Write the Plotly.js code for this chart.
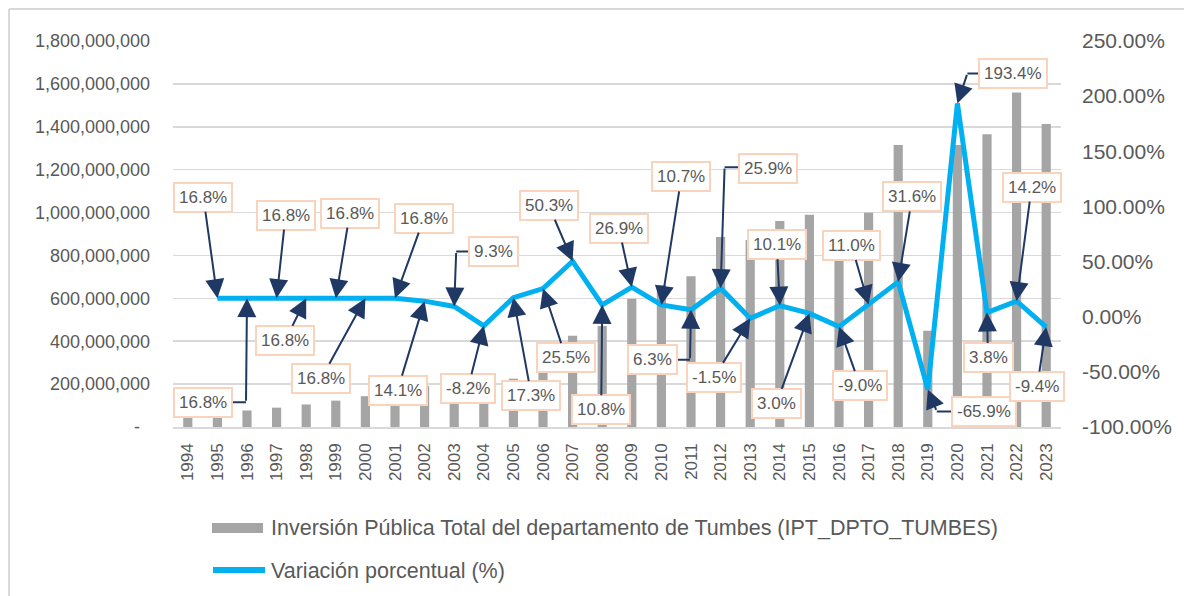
<!DOCTYPE html>
<html><head><meta charset="utf-8">
<script src="https://cdn.plot.ly/plotly-3.0.1.min.js"></script>
<style>html,body{margin:0;padding:0;background:#fff}#chart{width:1184px;height:596px}</style>
</head><body><div id="chart"></div>
<script>
// ---------- DATA ----------
const years = [1994,1995,1996,1997,1998,1999,2000,2001,2002,2003,2004,2005,2006,2007,2008,2009,2010,2011,2012,2013,2014,2015,2016,2017,2018,2019,2020,2021,2022,2023];
const yearLabels = ["1994","1995","1996","1997","1998","1999","2000","2001","2002","2003","2004","2005","2006","2007","2008","2009","2010","2011","2012","2013","2014","2015","2016","2017","2018","2019","2020","2021","2022","2023"];
const inversion = [56600000,66100000,77200000,90200000,105300000,123000000,143700000,167800000,191500000,209300000,192100000,225400000,282900000,425200000,471100000,597800000,661800000,703500000,885700000,872400000,960500000,989300000,900300000,999300000,1315100000,448400000,1315600000,1365600000,1559500000,1412900000];
const varYears = [1995,1996,1997,1998,1999,2000,2001,2002,2003,2004,2005,2006,2007,2008,2009,2010,2011,2012,2013,2014,2015,2016,2017,2018,2019,2020,2021,2022,2023];
const variacion = [16.8,16.8,16.8,16.8,16.8,16.8,16.8,14.1,9.3,-8.2,17.3,25.5,50.3,10.8,26.9,10.7,6.3,25.9,-1.5,10.1,3.0,-9.0,11.0,31.6,-65.9,193.4,3.8,14.2,-9.4];
const leftTicks = [0,200000000,400000000,600000000,800000000,1000000000,1200000000,1400000000,1600000000,1800000000];
const leftTickText = ["-\u00a0\u00a0","200,000,000","400,000,000","600,000,000","800,000,000","1,000,000,000","1,200,000,000","1,400,000,000","1,600,000,000","1,800,000,000"];
const rightTicks = [-1,-0.5,0,0.5,1,1.5,2,2.5];
const rightTickText = ["-100.00%","-50.00%","0.00%","50.00%","100.00%","150.00%","200.00%","250.00%"];
const seriesNames = ["Inversión Pública Total del departamento de Tumbes (IPT_DPTO_TUMBES)","Variación porcentual (%)"];

// ---------- LAYOUT HELPERS (label placement, pixels) ----------
// offsets of label box centre from the data point [dx, dy] (screen px), per varYears entry
const labelOffsets = [[-14,-101],[-44,104],[9,-83],[-21,42],[14,-85],[-44,80],[29,-80],[-27,89],[39,-55],[-16,63],[18,98],[23,69],[-24,-56],[-1,105],[-13,-59],[20,-128],[-39,50],[47,-120],[-36,59],[-3,-61],[-33,90],[21,59],[-17,-59],[14,-85],[56,22],[56,-30],[1,45],[15,-114],[-9,59]];
// elbow connectors: corner offset from data point
const elbowCorners = {1996:[-1,104],2003:[2,-55],2011:[-1,50],2012:[4,-121],2019:[9,22],2020:[10,-30]};

const L=173,R=1061,T=41,B=427;
const px = p => (p-L)/(R-L);
const py = p => (B-p)/(B-T);

const FONT = "Liberation Sans, Arial, sans-serif";
const TXT = "#595959";
const ARROW = "#1F3864";
const boxStyle = {bgcolor:"#ffffff", bordercolor:"#F9D3BC", borderwidth:2, borderpad:4, font:{family:FONT,size:17,color:TXT}};
const arrowStyle = {arrowcolor:ARROW, arrowwidth:2, arrowhead:2, arrowsize:1.9};

const annotations = [];
const shapes = [];
varYears.forEach((yr,i)=>{
  const v = variacion[i]/100;
  const txt = variacion[i].toFixed(1)+"%";
  const [dx,dy] = labelOffsets[i];
  const corner = elbowCorners[yr];
  if (corner) {
    shapes.push({type:"line", xref:"x", yref:"y2", xsizemode:"pixel", ysizemode:"pixel",
      xanchor:yr, yanchor:v, x0:corner[0], y0:-corner[1], x1:dx, y1:-corner[1],
      line:{color:ARROW,width:2}});
    annotations.push(Object.assign({x:yr,y:v,xref:"x",yref:"y2",text:"",showarrow:true,
      axref:"pixel",ayref:"pixel",ax:corner[0],ay:corner[1]},arrowStyle));
    annotations.push(Object.assign({x:yr,y:v,xref:"x",yref:"y2",text:txt,showarrow:false,
      xshift:dx,yshift:-dy},boxStyle));
  } else {
    annotations.push(Object.assign({x:yr,y:v,xref:"x",yref:"y2",text:txt,showarrow:true,
      axref:"pixel",ayref:"pixel",ax:dx,ay:dy},arrowStyle,boxStyle));
  }
});

// custom legend
shapes.push({type:"rect",xref:"paper",yref:"paper",x0:px(212),x1:px(263),y0:py(533),y1:py(523),fillcolor:"#A5A5A5",line:{width:0}});
shapes.push({type:"line",xref:"paper",yref:"paper",x0:px(213),x1:px(265),y0:py(570),y1:py(570),line:{color:"#00B0F0",width:6}});
annotations.push({xref:"paper",yref:"paper",x:px(269),y:py(528),xanchor:"left",yanchor:"middle",showarrow:false,text:seriesNames[0],font:{family:FONT,size:21.5,color:TXT}});
annotations.push({xref:"paper",yref:"paper",x:px(269),y:py(571),xanchor:"left",yanchor:"middle",showarrow:false,text:seriesNames[1],font:{family:FONT,size:21.5,color:TXT}});
// chart-area frame (top and left edges)
shapes.push({type:"line",xref:"paper",yref:"paper",x0:px(9),x1:px(1190),y0:py(9),y1:py(9),line:{color:"#D9D9D9",width:2}});
shapes.push({type:"line",xref:"paper",yref:"paper",x0:px(9),x1:px(9),y0:py(9),y1:py(600),line:{color:"#D9D9D9",width:2}});

const traces = [
  {type:"bar", x:years, y:inversion, name:seriesNames[0], marker:{color:"#A5A5A5"}, yaxis:"y", hoverinfo:"skip"},
  {type:"scatter", mode:"lines", x:varYears, y:variacion.map(v=>v/100), name:seriesNames[1], yaxis:"y2",
   line:{color:"#00B0F0", width:5}, hoverinfo:"skip"}
];

const layout = {
  width:1184, height:596,
  margin:{l:L, r:1184-R, t:T, b:596-B, pad:0},
  paper_bgcolor:"#ffffff", plot_bgcolor:"#ffffff",
  showlegend:false, bargap:0.69,
  font:{family:FONT, color:TXT},
  xaxis:{range:[1993.5,2023.5], tickmode:"array", tickvals:years, ticktext:yearLabels, tickangle:-90,
    showgrid:false, zeroline:false, showline:true, linecolor:"#D9D9D9", linewidth:1.5, ticks:"",
    tickfont:{family:FONT,size:17,color:TXT}, ticklabelstandoff:8, fixedrange:true},
  yaxis:{range:[0,1800000000], tickmode:"array", tickvals:leftTicks, ticktext:leftTickText,
    showgrid:true, gridcolor:"#D9D9D9", gridwidth:1.5, zeroline:false, ticks:"",
    tickfont:{family:FONT,size:18,color:TXT}, ticklabelstandoff:22, fixedrange:true},
  yaxis2:{range:[-1,2.5], overlaying:"y", side:"right", tickmode:"array", tickvals:rightTicks, ticktext:rightTickText,
    showgrid:false, zeroline:false, ticks:"", tickfont:{family:FONT,size:21,color:TXT}, ticklabelstandoff:20, fixedrange:true},
  annotations: annotations,
  shapes: shapes
};

Plotly.newPlot("chart", traces, layout, {displayModeBar:false, staticPlot:true});
</script>
</body></html>
